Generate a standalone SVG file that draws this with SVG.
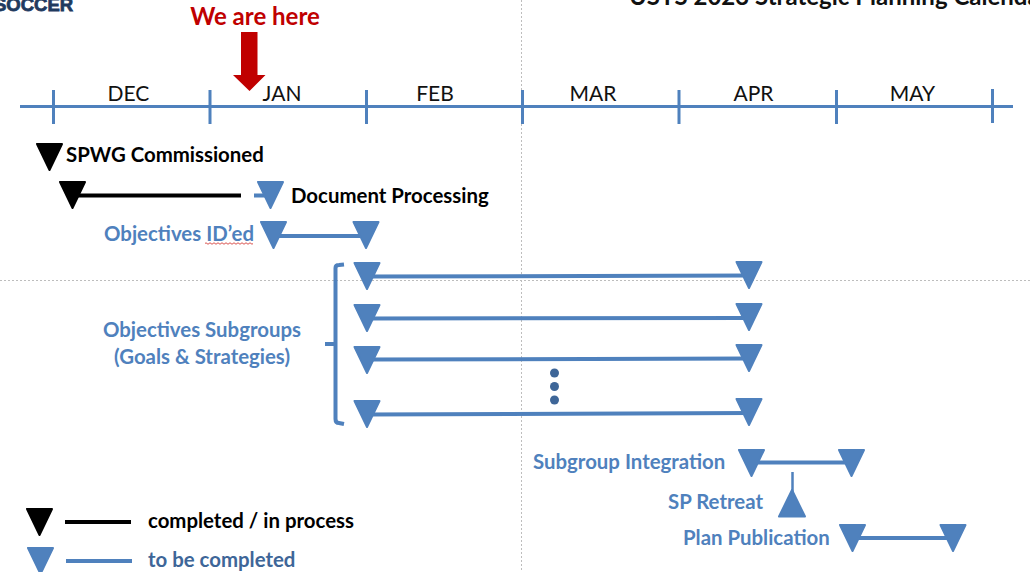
<svg xmlns="http://www.w3.org/2000/svg" width="1030" height="572" viewBox="0 0 1030 572">
<style>
text{font-family:Lato,"Open Sans","Liberation Sans",sans-serif}
.m{fill:#111;text-anchor:middle;font-size:21px}
.b{font-weight:700;font-size:20.400px}
.u{fill:#4f81bd}
.d{fill:#3e6698}
.tick{stroke:#4f81bd;stroke-width:3;fill:none}
.bl{stroke:#4f81bd;stroke-width:4;fill:none}
.bk{stroke:#000;stroke-width:4;fill:none}
.tri{stroke-linejoin:round;stroke-width:2}
.guide{stroke:#bdbdbd;stroke-width:1;stroke-dasharray:2 2;fill:none}
</style>
<defs>
<path id="tb" class="tri" d="M-12.500 -13H12.500L0 13Z" fill="#4f81bd" stroke="#4f81bd"/>
<path id="tk" class="tri" d="M-12.500 -13H12.500L0 13Z" fill="#000" stroke="#000"/>
</defs>
<g id="guides"><path class="guide" d="M0 280.500H1030M521.500 0V572"/></g>
<g id="header">
<text x="-6" y="11" style="font-family:'Liberation Sans',sans-serif;font-weight:700;font-size:18.500px;fill:#1f3a5f;stroke:#1f3a5f;stroke-width:.8">SOCCER</text>
<text x="629" y="5" style="font-weight:700;font-size:24px;fill:#111">USYS 2023 Strategic Planning Calendar</text>
<text x="255" y="25" text-anchor="middle" style="font-weight:700;font-size:24px;fill:#c00000">We are here</text>
</g>
<g id="marker"><path d="M241 32H257.500V75H265.500L249.500 91L233 75H241Z" fill="#c00000"/></g>
<g id="timeline">
<path class="tick" d="M20 106.500H1013M53.500 90V124M210 90V124M366.500 90V124M522.500 90V124M679 90V124M836.500 90V124M992.500 89V123"/>
<text class="m" x="128.500" y="101">DEC</text><text class="m" x="282" y="101">JAN</text><text class="m" x="435" y="101">FEB</text>
<text class="m" x="593" y="101">MAR</text><text class="m" x="753.500" y="101">APR</text><text class="m" x="912.500" y="101">MAY</text>
</g>
<g id="connectors">
<path class="bk" d="M76 195.500H241"/>
<path class="bl" d="M254 195.500H270M274 236H366M367 276.500L750 275.500M367 318.500L750 318M367 359.500L750 358.500M367 414.500L750 413M750 462.500H852M852 538H953"/>
<path d="M792.500 472V497" stroke="#4f81bd" stroke-width="2.500" fill="none"/>
<path class="bl" d="M344 264.500L339 265Q335.500 265 335.500 268V419Q335.500 423 339 423L344 424M325 344H335"/>
<path class="bk" d="M65 522H131"/><path class="bl" d="M66 561H132"/>
</g>
<g id="spwg"><use href="#tk" x="49.500" y="157"/><text class="b" x="66" y="162" style="fill:#000">SPWG Commissioned</text></g>
<g id="doc"><use href="#tk" x="72.500" y="195"/><use href="#tb" x="270.500" y="195"/><text class="b" x="291" y="203" style="fill:#000">Document Processing</text></g>
<g id="objectives"><use href="#tb" x="273.500" y="235"/><use href="#tb" x="366" y="235"/><text class="b u" x="104" y="241">Objectives ID’ed</text>
<path d="M205 243.500q1-1.500 2 0t2 0 2 0 2 0 2 0 2 0 2 0 2 0 2 0 2 0 2 0 2 0 2 0 2 0 2 0 2 0 2 0 2 0 2 0 2 0 2 0 2 0 2 0 2 0" stroke="#d9534f" stroke-width="1" fill="none"/></g>
<g id="subgroups">
<use href="#tb" x="367" y="276"/><use href="#tb" x="749" y="275"/>
<use href="#tb" x="367" y="318"/><use href="#tb" x="749" y="317"/>
<use href="#tb" x="367" y="360"/><use href="#tb" x="749" y="358"/>
<use href="#tb" x="367" y="414"/><use href="#tb" x="749" y="412"/>
<text class="b u" x="202" y="337" text-anchor="middle">Objectives Subgroups</text><text class="b u" x="202" y="364" text-anchor="middle">(Goals &amp; Strategies)</text>
<circle class="d" cx="554.500" cy="373" r="4.500"/><circle class="d" cx="554.500" cy="386.500" r="4.500"/><circle class="d" cx="554.500" cy="400" r="4.500"/>
</g>
<g id="integration"><use href="#tb" x="751.500" y="463"/><use href="#tb" x="851.500" y="463"/><text class="b u" x="533" y="469">Subgroup Integration</text></g>
<g id="retreat"><path class="tri" d="M779 516.500H805L792 490Z" fill="#4f81bd" stroke="#4f81bd"/><text class="b u" x="668" y="509">SP Retreat</text></g>
<g id="publication"><use href="#tb" x="852.500" y="538"/><use href="#tb" x="953" y="538"/><text class="b u" x="683" y="545">Plan Publication</text></g>
<g id="legend"><use href="#tk" x="39.500" y="522"/><use href="#tb" x="40.500" y="561"/><text class="b" x="148" y="528" style="fill:#000">completed / in process</text><text class="b" x="148" y="567" style="fill:#3e6698">to be completed</text></g>
</svg>
